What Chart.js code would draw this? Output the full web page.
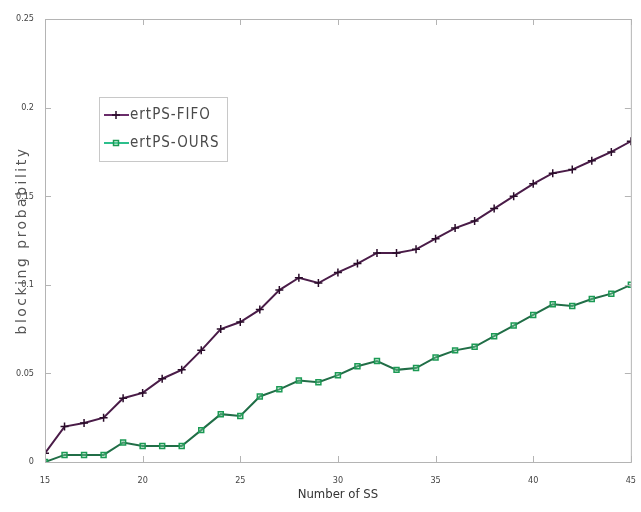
<!DOCTYPE html>
<html>
<head>
<meta charset="utf-8">
<script src="https://cdn.jsdelivr.net/npm/chart.js@4.4.1/dist/chart.umd.min.js"></script>
<style>
    html, body { margin: 0; padding: 0; background: #fff; }
    #wrap { width: 641px; height: 512px; }
</style>
</head>
<body>
<div id="wrap"><canvas id="blockChart" width="641" height="512"></canvas></div>
<script>
// Data
const numberOfSS = [15, 16, 17, 18, 19, 20, 21, 22, 23, 24, 25, 26, 27, 28, 29, 30,
                    31, 32, 33, 34, 35, 36, 37, 38, 39, 40, 41, 42, 43, 44, 45];
const fifoValues = [0.005, 0.020, 0.022, 0.025, 0.036, 0.039, 0.047, 0.052, 0.063, 0.075, 0.079,
                    0.086, 0.097, 0.104, 0.101, 0.107, 0.112, 0.118, 0.118, 0.120, 0.126,
                    0.132, 0.136, 0.143, 0.150, 0.157, 0.163, 0.165, 0.170, 0.175, 0.181];
const oursValues = [0.000, 0.004, 0.004, 0.004, 0.011, 0.009, 0.009, 0.009, 0.018, 0.027, 0.026,
                    0.037, 0.041, 0.046, 0.045, 0.049, 0.054, 0.057, 0.052, 0.053, 0.059,
                    0.063, 0.065, 0.071, 0.077, 0.083, 0.089, 0.088, 0.092, 0.095, 0.100];
const xTicks = [15, 20, 25, 30, 35, 40, 45];
const yTicks = [0, 0.05, 0.1, 0.15, 0.2, 0.25];
const yTickLabels = ['0', '0.05', '0.1', '0.15', '0.2', '0.25'];
const seriesNames = ['ertPS-FIFO', 'ertPS-OURS'];

const tickFont = { family: "'Liberation Sans Narrow', 'DejaVu Sans Condensed', sans-serif", size: 9 };

// frame, inward ticks on all four sides, legend box and spaced y title
const matlabLook = {
    id: 'matlabLook',
    afterDraw(chart) {
        const ctx = chart.ctx;
        const a = chart.chartArea;
        const xs = chart.scales.x, ys = chart.scales.y;
        ctx.save();
        ctx.strokeStyle = '#b4b4b4';
        ctx.lineWidth = 1;
        ctx.strokeRect(a.left + 0.5, a.top + 0.5, a.right - a.left, a.bottom - a.top);
        ctx.beginPath();
        xTicks.forEach(v => {
            const px = Math.round(xs.getPixelForValue(v)) + 0.5;
            ctx.moveTo(px, a.bottom); ctx.lineTo(px, a.bottom - 6);
            ctx.moveTo(px, a.top); ctx.lineTo(px, a.top + 6);
        });
        yTicks.forEach(v => {
            const py = Math.round(ys.getPixelForValue(v)) + 0.5;
            ctx.moveTo(a.left, py); ctx.lineTo(a.left + 6, py);
            ctx.moveTo(a.right, py); ctx.lineTo(a.right - 6, py);
        });
        ctx.stroke();

        // legend
        const lx = 99, ly = 97, lw = 128, lh = 64;
        ctx.fillStyle = '#fff';
        ctx.fillRect(lx, ly, lw, lh);
        ctx.strokeStyle = '#c8c8c8';
        ctx.strokeRect(lx + 0.5, ly + 0.5, lw, lh);
        const rows = [
            { y: ly + 18, line: '#6a2c6a', ds: chart.data.datasets[0] },
            { y: ly + 46, line: '#2cbf8c', ds: chart.data.datasets[1] }
        ];
        rows.forEach((r, i) => {
            ctx.strokeStyle = r.line;
            ctx.lineWidth = 2;
            ctx.beginPath();
            ctx.moveTo(lx + 5, r.y); ctx.lineTo(lx + 30, r.y);
            ctx.stroke();
            ctx.strokeStyle = r.ds.pointBorderColor;
            ctx.fillStyle = r.ds.pointBackgroundColor;
            ctx.lineWidth = 1.5;
            Chart.helpers.drawPoint(ctx, { pointStyle: r.ds.pointStyle, radius: r.ds.pointRadius, borderWidth: 1.5, rotation: 0 }, lx + 17, r.y);
            ctx.fillStyle = '#4a4a4a';
            ctx.font = "15px 'DejaVu Sans Condensed', sans-serif";
            ctx.letterSpacing = '1px';
            ctx.textBaseline = 'middle';
            ctx.textAlign = 'left';
            ctx.fillText(seriesNames[i], lx + 31, r.y);
        });

        // y axis title
        ctx.translate(22, (a.top + a.bottom) / 2);
        ctx.rotate(-Math.PI / 2);
        ctx.fillStyle = '#555';
        ctx.font = "14px 'DejaVu Sans', sans-serif";
        ctx.letterSpacing = '2.5px';
        ctx.textAlign = 'center';
        ctx.textBaseline = 'middle';
        ctx.fillText('blocking probability', 0, 0);
        ctx.restore();
    }
};

const ctx = document.getElementById('blockChart').getContext('2d');
new Chart(ctx, {
    type: 'line',
    data: {
        labels: numberOfSS,
        datasets: [{
            label: seriesNames[0],
            data: numberOfSS.map((n, i) => ({ x: n, y: fifoValues[i] })),
            borderColor: '#4a1c48',
            borderWidth: 2,
            tension: 0,
            pointStyle: 'cross',
            pointRadius: 4,
            pointBorderWidth: 1.5,
            pointBorderColor: '#2a0c2a',
            pointBackgroundColor: '#2a0c2a'
        }, {
            label: seriesNames[1],
            data: numberOfSS.map((n, i) => ({ x: n, y: oursValues[i] })),
            borderColor: '#216e47',
            borderWidth: 2,
            tension: 0,
            pointStyle: 'rect',
            pointRadius: 3.5,
            pointBorderWidth: 1.5,
            pointBorderColor: '#1c9a55',
            pointBackgroundColor: 'rgba(150, 225, 180, 0.35)'
        }]
    },
    options: {
        responsive: false,
        animation: false,
        layout: { padding: { top: 19, right: 7, left: 0, bottom: 0 } },
        scales: {
            x: {
                type: 'linear',
                min: 15,
                max: 45,
                afterBuildTicks: s => { s.ticks = xTicks.map(v => ({ value: v })); },
                afterFit: s => { s.height = 50; },
                grid: { display: false },
                border: { display: false },
                ticks: { color: '#444', font: tickFont, padding: 5, maxRotation: 0 },
                title: {
                    display: true,
                    text: 'Number of SS',
                    color: '#333',
                    font: { family: "'Liberation Sans Narrow', 'DejaVu Sans Condensed', sans-serif", size: 13 },
                    padding: { top: 2, bottom: 10 }
                }
            },
            y: {
                min: 0,
                max: 0.25,
                afterBuildTicks: s => { s.ticks = yTicks.map(v => ({ value: v })); },
                afterFit: s => { s.width = 45; },
                grid: { display: false },
                border: { display: false },
                ticks: {
                    color: '#444',
                    font: tickFont,
                    padding: 3,
                    callback: (v) => yTickLabels[yTicks.indexOf(v)]
                }
            }
        },
        plugins: {
            legend: { display: false },
            tooltip: { enabled: false }
        }
    },
    plugins: [matlabLook]
});
</script>
</body>
</html>
